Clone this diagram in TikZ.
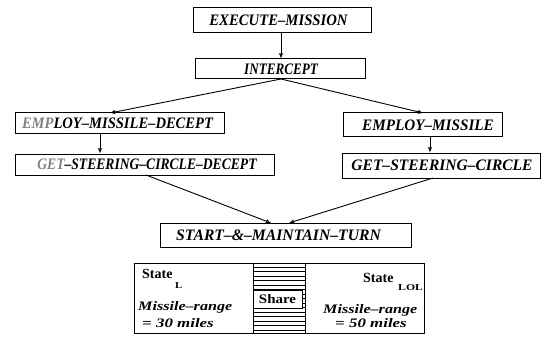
\documentclass[tikz,border=0pt]{standalone}
\usepackage{fontspec}
\usepackage{graphicx}
\setmainfont{Liberation Serif}
\usetikzlibrary{arrows.meta}
% horizontally squeezed or widened text
\newcommand{\hscale}[2]{\scalebox{#1}[1]{#2}}
\begin{document}
\begin{tikzpicture}[x=1pt,y=-1pt,
  goal/.style={draw,line width=1pt,inner sep=0pt,anchor=center},
  goaltext/.style={inner sep=0pt,font=\fontsize{16}{16}\selectfont\bfseries\itshape},
  flow/.style={line width=0.9pt,-{Latex[open,length=5pt,width=4.5pt]}},
  statetext/.style={inner sep=0pt,anchor=base west,font=\fontsize{14}{14}\selectfont\bfseries},
  subtext/.style={inner sep=0pt,anchor=base west,font=\fontsize{9}{9}\selectfont\bfseries},
  rangetext/.style={inner sep=0pt,anchor=base west,font=\fontsize{13}{13}\selectfont\bfseries\itshape}]
\useasboundingbox (0,0) rectangle (545,339);

% goal tree
\node[goal,minimum width=178pt,minimum height=25pt,
  label={[goaltext,xshift=-3.5pt]center:\hscale{0.92}{EXECUTE–MISSION}}] (exec) at (282,20.5) {};
\node[goal,minimum width=170pt,minimum height=20pt,
  label={[goaltext,xshift=1pt]center:\hscale{0.82}{INTERCEPT}}] (icpt) at (280,69) {};
\node[goal,minimum width=209pt,minimum height=21pt,
  label={[goaltext,xshift=-2pt]center:\hscale{0.91}{\textcolor{gray}{EMP}LOY–MISSILE–DECEPT}}] (emd) at (119.5,123.5) {};
\node[goal,minimum width=259pt,minimum height=21pt,
  label={[goaltext,xshift=2.5pt]center:\hscale{0.85}{\textcolor{gray}{GET}–STEERING–CIRCLE–DECEPT}}] (gscd) at (144.5,164.5) {};
\node[goal,minimum width=159pt,minimum height=24pt,
  label={[goaltext,xshift=5.5pt]center:\hscale{0.95}{EMPLOY–MISSILE}}] (em) at (422.5,125) {};
\node[goal,minimum width=198pt,minimum height=25pt,
  label={[goaltext,xshift=1pt]center:\hscale{0.97}{GET–STEERING–CIRCLE}}] (gsc) at (441,165.5) {};
\node[goal,minimum width=251pt,minimum height=24pt,
  label={[goaltext,xshift=-7pt]center:\hscale{0.98}{START–\&–MAINTAIN–TURN}}] (smt) at (285.5,235) {};

\coordinate (icptB) at (281,79);
\coordinate (emdT) at (110,113);
\coordinate (emT) at (423,113);
\coordinate (gscdB) at (146,175);
\coordinate (gscB) at (433,178);
\coordinate (smtL) at (271,223);
\coordinate (smtR) at (289,223);

\draw[flow] (exec.south -| icptB) -- (icpt.north -| icptB);
\draw[flow] (icptB) -- (emdT);
\draw[flow] (icptB) -- (emT);
\draw[flow] (emd.south -| 100,0) -- (gscd.north -| 100,0);
\draw[flow] (em.south -| 430,0) -- (gsc.north -| 430,0);
\draw[flow] (gscdB) -- (smtL);
\draw[flow] (gscB) -- (smtR);

% shared state panel
\draw[line width=1pt] (134,263) rectangle (424,333);
\draw[line width=0.8pt] (253,263) -- (253,333) (305,263) -- (305,333);
\foreach \yy in {267,271.5,...,331}
  \draw[line width=0.5pt] (253,\yy) -- (305,\yy);
\node[draw,fill=white,line width=0.8pt,minimum width=49pt,minimum height=18pt,inner sep=0pt,
  font=\fontsize{13}{13}\selectfont\bfseries] (share) at (277.5,299) {\hscale{1.15}{Share}};

\node[statetext] (stl) at (142,278) {State};
\node[subtext] (subl) at (175,288) {\hscale{1.2}{L}};
\node[rangetext] (rngl) at (138,310) {\hscale{1.24}{Missile–range}};
\node[rangetext] (eql) at (142,327) {\hscale{1.3}{= 30 miles}};

\node[statetext] (str) at (363,282) {State};
\node[subtext] (subr) at (398,290) {\hscale{1.3}{LOL}};
\node[rangetext] (rngr) at (323,313) {\hscale{1.24}{Missile–range}};
\node[rangetext] (eqr) at (335,327) {\hscale{1.3}{= 50 miles}};
\end{tikzpicture}
\end{document}
